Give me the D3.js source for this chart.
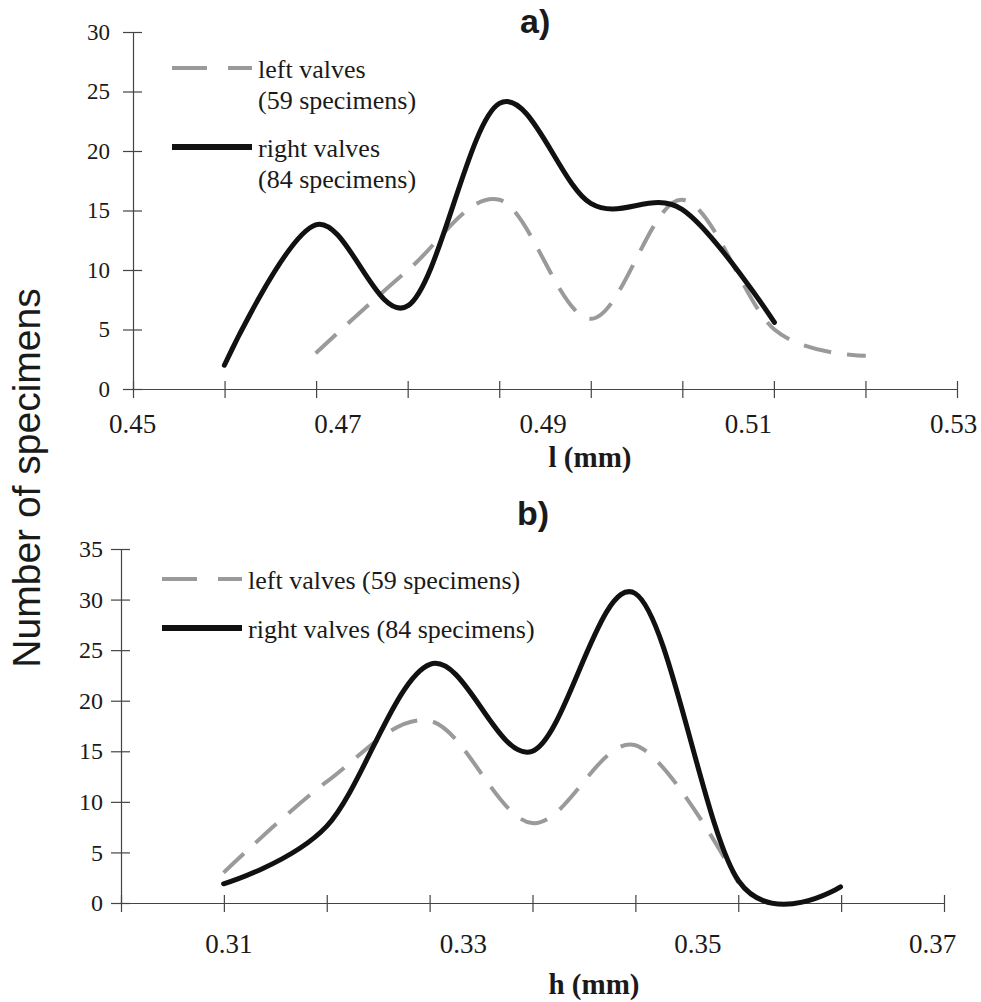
<!DOCTYPE html>
<html>
<head>
<meta charset="utf-8">
<script src="https://cdn.jsdelivr.net/npm/d3@7"></script>
<style>
  body { margin: 0; background: #fff; }
  svg { display: block; }
</style>
</head>
<body>
<svg id="chart" width="981" height="1002"></svg>
<script>
// panel a: valve length l (mm), counts per size class
const lenBins = [0.4590, 0.4679, 0.4769, 0.4858, 0.4947, 0.5036, 0.5126, 0.5215];
const lenLeft = [null, 3.0, 10.0, 15.9, 5.9, 15.9, 5.0, 2.8];
const lenRight = [2.0, 13.8, 7.0, 24.0, 15.6, 15.1, 5.6, null];
const lenLabels = [0.45, 0.47, 0.49, 0.51, 0.53];
const lenCountTicks = [0, 5, 10, 15, 20, 25, 30];

// panel b: valve height h (mm)
const hBins = [0.3096, 0.3184, 0.3272, 0.3359, 0.3447, 0.3535, 0.3622];
const hLeft = [3.0, 12.0, 18.0, 7.9, 15.6, 2.0, null];
const hRight = [1.9, 7.6, 23.6, 15.0, 30.6, 2.2, 1.6];
const hLabels = [0.31, 0.33, 0.35, 0.37];
const hCountTicks = [0, 5, 10, 15, 20, 25, 30, 35];

const seriesNames = ["left valves", "right valves"];
const specimenCounts = [59, 84];

const SERIF = '"Liberation Serif", "Times New Roman", serif';
const SANS = '"Liberation Sans", Arial, sans-serif';
const INK = "#1a1a1a";

const svg = d3.select("#chart");

const styles = {
  left: { stroke: "#9a9a9a", width: 4, dash: "28,16", legendDash: "35,21" },
  right: { stroke: "#111", width: 5, dash: null, legendDash: null },
};

function drawPanel(cfg) {
  const x = d3.scaleLinear().domain(cfg.xDomain).range(cfg.xRange);
  const y = d3.scaleLinear().domain(cfg.yDomain).range(cfg.yRange);
  // printed tick marks are evenly spaced along the axis, not at the labels
  const tickIdx = d3.scaleLinear().domain([0, cfg.tickIntervals]).range(cfg.frame);
  const g = svg.append("g");

  // y axis
  const yAxis = g.append("g")
    .attr("transform", `translate(${cfg.frame[0]},0)`)
    .call(d3.axisLeft(y).tickValues(cfg.yTicks).tickSize(10).tickSizeOuter(0).tickPadding(cfg.yPad));
  yAxis.selectAll(".tick line").attr("x1", 9);
  yAxis.selectAll("text")
    .style("font-family", SERIF)
    .style("font-size", cfg.yFont + "px");

  // x axis frame (tick marks only)
  const xFrame = g.append("g")
    .attr("transform", `translate(0,${cfg.yRange[0]})`)
    .call(d3.axisBottom(tickIdx).tickValues(d3.range(cfg.tickIntervals + 1)).tickSize(9).tickSizeOuter(0).tickFormat(""));
  xFrame.selectAll(".tick line").attr("y1", -8);

  // x labels
  const xLab = g.append("g")
    .attr("transform", `translate(0,${cfg.yRange[0]})`)
    .call(d3.axisBottom(x).tickValues(cfg.xLabels).tickSize(0).tickPadding(cfg.xPad).tickFormat(d3.format(".2f")));
  xLab.select(".domain").remove();
  xLab.selectAll("text")
    .style("font-family", SERIF)
    .style("font-size", "27px");

  g.selectAll(".domain, .tick line").attr("stroke", "#444").attr("stroke-width", 1.2);
  g.selectAll(".tick text").attr("fill", INK);

  // x title
  g.append("text")
    .attr("x", cfg.titlePos[0])
    .attr("y", cfg.titlePos[1])
    .attr("text-anchor", "middle")
    .style("font-family", SERIF)
    .style("font-size", "29px")
    .style("font-weight", "bold")
    .attr("fill", INK)
    .text(cfg.xTitle);

  // panel label
  g.append("text")
    .attr("x", cfg.tagPos[0])
    .attr("y", cfg.tagPos[1])
    .style("font-family", SANS)
    .style("font-size", "34px")
    .style("font-weight", "bold")
    .attr("fill", INK)
    .text(cfg.tag);

  // curves
  const line = d3.line()
    .x((d) => x(d.x))
    .y((d) => y(d.v))
    .curve(d3.curveCardinal.tension(0));

  [["left", cfg.left], ["right", cfg.right]].forEach(([key, vals]) => {
    const st = styles[key];
    const pts = cfg.bins.map((b, i) => ({ x: b, v: vals[i] })).filter((d) => d.v != null);
    g.append("path")
      .datum(pts)
      .attr("d", line)
      .attr("fill", "none")
      .attr("stroke", st.stroke)
      .attr("stroke-width", st.width)
      .attr("stroke-linecap", key === "right" ? "round" : "butt")
      .attr("stroke-dasharray", st.dash);
  });

  // legend
  const lg = g.append("g");
  ["left", "right"].forEach((key, i) => {
    const st = styles[key];
    const ly = cfg.legendY[i];
    lg.append("line")
      .attr("x1", cfg.legendX[0]).attr("x2", cfg.legendX[1])
      .attr("y1", ly).attr("y2", ly)
      .attr("stroke", st.stroke)
      .attr("stroke-width", key === "right" ? 6 : 4)
      .attr("stroke-dasharray", st.legendDash);
    const label = seriesNames[i];
    const count = `(${specimenCounts[i]} specimens)`;
    const t = lg.append("text")
      .style("font-family", SERIF)
      .style("font-size", "26px")
      .attr("fill", INK)
      .attr("x", cfg.legendX[1] + 6)
      .attr("y", ly + 10);
    if (cfg.legendWrap) {
      t.append("tspan").text(label);
      t.append("tspan").attr("x", cfg.legendX[1] + 6).attr("dy", 31).text(count);
    } else {
      t.text(`${label} ${count}`);
    }
  });
}

drawPanel({
  xDomain: [0.45, 0.53], xRange: [132, 953], frame: [133, 957], tickIntervals: 9,
  yDomain: [0, 30], yRange: [389, 32], yTicks: lenCountTicks, yPad: 13, yFont: 23,
  xLabels: lenLabels, xPad: 25, xTitle: "l (mm)", titlePos: [590, 467],
  tag: "a)", tagPos: [520, 33],
  bins: lenBins, left: lenLeft, right: lenRight,
  legendX: [172, 252], legendY: [68, 147], legendWrap: true,
});

drawPanel({
  xDomain: [0.30, 0.37], xRange: [111, 932], frame: [121, 944], tickIntervals: 8,
  yDomain: [0, 35], yRange: [903, 549], yTicks: hCountTicks, yPad: 8, yFont: 24,
  xLabels: hLabels, xPad: 31, xTitle: "h (mm)", titlePos: [594, 994],
  tag: "b)", tagPos: [517, 525],
  bins: hBins, left: hLeft, right: hRight,
  legendX: [162, 242], legendY: [579, 628], legendWrap: false,
});

// shared y title
svg.append("text")
  .attr("transform", "translate(40,478) rotate(-90)")
  .attr("text-anchor", "middle")
  .style("font-family", SANS)
  .style("font-size", "39px")
  .attr("fill", INK)
  .text("Number of specimens");
</script>
</body>
</html>
